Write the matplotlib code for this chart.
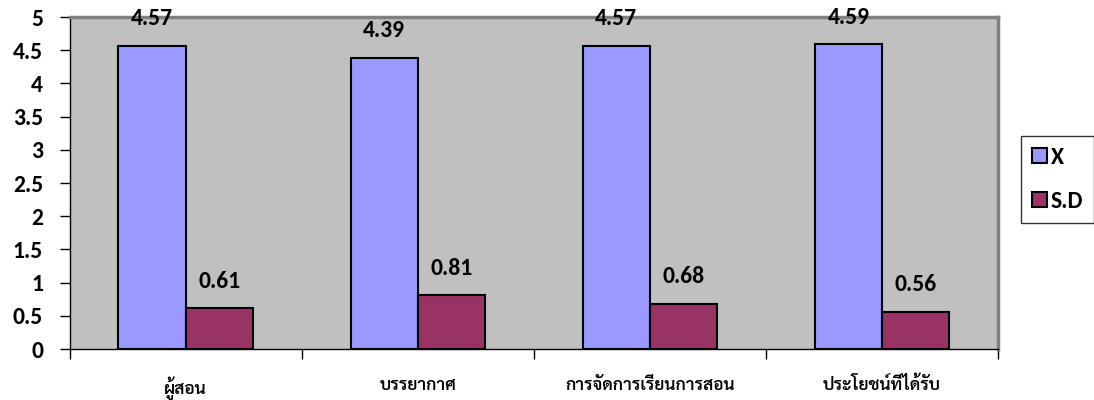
import numpy as np
import matplotlib
matplotlib.use("Agg")
import matplotlib.pyplot as plt
from matplotlib.patches import Patch

categories = ['ผู้สอน', 'บรรยากาศ', 'การจัดการเรียนการสอน', 'ประโยชน์ที่ได้รับ']
mean_vals = [4.57, 4.39, 4.57, 4.59]
sd_vals = [0.61, 0.81, 0.68, 0.56]
series_names = ['X', 'S.D']

num_font = ['Carlito', 'Lato', 'DejaVu Sans']
thai_font = ['Sarabun', 'DejaVu Sans']

fig = plt.figure(figsize=(10.94, 4.0), dpi=100)
ax = fig.add_axes([69.5 / 1094, 1 - 349 / 400, (998 - 69.5) / 1094, (349 - 17) / 400])
ax.set_facecolor('#C0C0C0')

x = np.arange(len(categories))
w = 0.289
b1 = ax.bar(x - w / 2, mean_vals, w, color='#9999FF', edgecolor='black', linewidth=1.5, zorder=3)
b2 = ax.bar(x + w / 2, sd_vals, w, color='#993366', edgecolor='black', linewidth=1.5, zorder=3)

for bars, vals in ((b1, mean_vals), (b2, sd_vals)):
    for r, v in zip(bars, vals):
        ax.annotate(f'{v:.2f}', (r.get_x() + r.get_width() / 2, v), xytext=(0, 12),
                    textcoords='offset points', ha='center', va='bottom',
                    fontsize=17, fontweight='bold', family=num_font, annotation_clip=False)

ax.set_xlim(-0.5, len(categories) - 0.5)
ax.set_ylim(0, 5)
yt = np.arange(0, 5.01, 0.5)
ax.set_yticks(yt)
ax.set_yticklabels([f'{t:g}' for t in yt], fontsize=17, fontweight='bold', family=num_font)
ax.set_xticks(np.arange(-0.5, len(categories), 1.0))
ax.set_xticklabels([])
ax.set_xticks(x, minor=True)
ax.set_xticklabels(categories, minor=True, fontsize=12.5, fontweight='semibold', family=thai_font)
ax.tick_params(axis='x', which='minor', length=0, pad=20)
ax.tick_params(axis='x', which='major', length=7, width=1, direction='out')
ax.tick_params(axis='y', length=7, width=1, direction='out', pad=12)

for s in ('left', 'bottom'):
    ax.spines[s].set_color('black')
    ax.spines[s].set_linewidth(1)
for s in ('top', 'right'):
    ax.spines[s].set_color('#808080')
    ax.spines[s].set_linewidth(2.5)

handles = [Patch(facecolor='#9999FF', edgecolor='black', linewidth=1.5),
           Patch(facecolor='#993366', edgecolor='black', linewidth=1.5)]
leg = fig.legend(handles, series_names, loc='upper left', bbox_to_anchor=(1021 / 1094, 1 - 136 / 400),
                 borderaxespad=0, frameon=True, fancybox=False, edgecolor='black',
                 handlelength=0.65, handleheight=0.6, handletextpad=0.15, labelspacing=1.0,
                 borderpad=0.45, prop={'family': num_font, 'weight': 'bold', 'size': 17})
leg.get_frame().set_linewidth(1)

fig.savefig('out.png', dpi=100)
